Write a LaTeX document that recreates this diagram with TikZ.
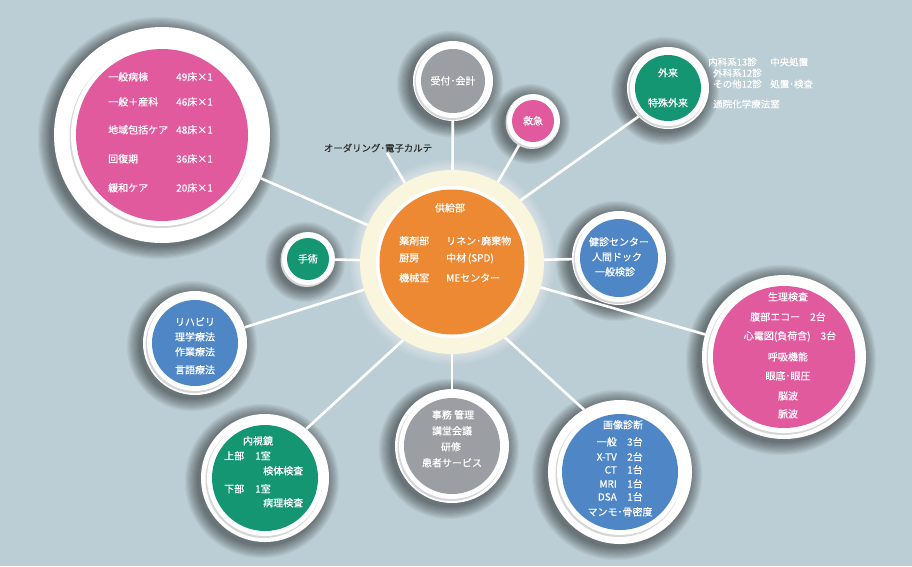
\documentclass[tikz,border=0pt]{standalone}
\usepackage{fontspec}
\setmainfont{Noto Sans CJK JP}[FakeBold=0.35]
\usetikzlibrary{calc}
\definecolor{bgc}{RGB}{188,206,213}
\definecolor{pinkc}{RGB}{225,90,157}
\definecolor{greenc}{RGB}{20,150,115}
\definecolor{bluec}{RGB}{79,134,198}
\definecolor{grayc}{RGB}{155,158,162}
\definecolor{orangec}{RGB}{238,137,51}
\definecolor{creamc}{RGB}{250,246,222}
\definecolor{darktext}{RGB}{45,45,45}
\pgfdeclarelayer{halo}
\pgfdeclarelayer{lines}
\pgfsetlayers{halo,lines,main}
\tikzset{
  outerdisc/.style={circle, fill=white, inner sep=0pt, outer sep=0pt},
  conn/.style={draw=white, line width=2.6pt},
  txt/.style={text=white, font=\fontsize{10}{12}\selectfont, inner sep=0pt, text height=8.2pt, text depth=1pt},
  smalltxt/.style={txt, font=\fontsize{9.5}{11}\selectfont},
}
\newcommand\bub[6]{%
  \begin{pgfonlayer}{halo}
    \foreach \k in {1,...,12}{\fill[black,opacity=0.045] (#2-3,#3+3) circle ({(#5+\k*1.1)*1pt});}
  \end{pgfonlayer}
  \node[outerdisc, minimum size={2*#5*1pt}] (#1) at (#2,#3) {};
  \fill[black!16] (#2-1,#3+1.5) circle ({(#4+5.5)*1pt});
  \fill[white] (#2,#3) circle ({(#4+5)*1pt});
  \fill[#6] (#2,#3) circle ({#4*1pt});
}
\begin{document}
\begin{tikzpicture}[x=1pt,y=-1pt]
\useasboundingbox (0,0) rectangle (912,566);
\begin{pgfonlayer}{halo}
  \fill[bgc] (0,0) rectangle (912,566);
  \foreach \k in {1,...,8}{\fill[white,opacity=0.06] (452,262) circle ({(92+\k*1.3)*1pt});}
\end{pgfonlayer}
% hub
\node[circle, fill=creamc, inner sep=0pt, outer sep=0pt, minimum size=184pt] (hub) at (452,262) {};
\fill[white] (452,262) circle (76pt);
\fill[orangec] (452,262) circle (72.5pt);
% satellites
\bub{p1}{162}{135}{86}{108}{pinkc}
\bub{uke}{453}{81}{32}{40}{grayc}
\bub{kyu}{533}{121}{21}{27}{pinkc}
\bub{gai}{668}{88}{33}{41}{greenc}
\bub{ken}{619}{258}{39}{47}{bluec}
\bub{rp}{784}{357}{71}{82}{pinkc}
\bub{gz}{620}{472}{58}{72}{bluec}
\bub{bgr}{452}{446}{48}{57}{grayc}
\bub{nai}{265}{478}{53}{64}{greenc}
\bub{rh}{195}{343}{43}{52}{bluec}
\bub{shu}{308}{259}{21}{27}{greenc}
% label
\node[txt, text=darktext, font=\fontsize{9.4}{11}\selectfont] (order) at (378,148) {オーダリング･電子カルテ};
% connectors
\begin{pgfonlayer}{lines}
  \draw[conn] (p1) -- (hub);
  \draw[conn] (uke) -- (hub);
  \draw[conn] (kyu) -- (hub);
  \draw[conn] (hub.42) -- (gai.224);
  \draw[conn] (ken) -- (hub);
  \draw[conn] (rp) -- (hub);
  \draw[conn] (hub.-55) -- (gz.120);
  \draw[conn] (bgr) -- (hub);
  \draw[conn] (hub.238) -- (nai.50);
  \draw[conn] (rh) -- (hub);
  \draw[conn] (shu) -- (hub);
  \draw[conn] ([xshift=9pt]order.south) -- (hub);
\end{pgfonlayer}
% hub text
\node[txt] (h0) at (450,208) {供給部};
\node[txt, anchor=west] (h1) at (399,241) {薬剤部};
\node[txt, anchor=west] (h2) at (446,241) {リネン･廃棄物};
\node[txt, anchor=west] (h3) at (399,258) {厨房};
\node[txt, anchor=west] (h4) at (446,258) {中材\,(SPD)};
\node[txt, anchor=west] (h5) at (399,278) {機械室};
\node[txt, anchor=west] (h6) at (446,278) {MEセンター};
% p1 text
\node[txt, anchor=west] (pa1) at (108,77) {一般病棟};
\node[txt, anchor=west] (pa2) at (176,77) {49床×1};
\node[txt, anchor=west] (pb1) at (108,102) {一般＋産科};
\node[txt, anchor=west] (pb2) at (176,102) {46床×1};
\node[txt, anchor=west] (pc1) at (108,130) {地域包括ケア};
\node[txt, anchor=west] (pc2) at (176,130) {48床×1};
\node[txt, anchor=west] (pd1) at (108,159) {回復期};
\node[txt, anchor=west] (pd2) at (176,159) {36床×1};
\node[txt, anchor=west] (pe1) at (108,188) {緩和ケア};
\node[txt, anchor=west] (pe2) at (176,188) {20床×1};
% small ones
\node[txt] (uket) at (453,81) {受付･会計};
\node[txt] (kyut) at (533,121) {救急};
\node[txt] (shut) at (308,259) {手術};
\node[txt] (gai1) at (668,73) {外来};
\node[txt] (gai2) at (668,103) {特殊外来};
\node[smalltxt, anchor=west] (gr1) at (708,62) {内科系13診};
\node[smalltxt, anchor=west] (gr2) at (770,62) {中央処置};
\node[smalltxt, anchor=west] (gr3) at (713,73) {外科系12診};
\node[smalltxt, anchor=west] (gr4) at (713,84) {その他12診};
\node[smalltxt, anchor=west] (gr5) at (770,84) {処置･検査};
\node[smalltxt, anchor=west] (gr6) at (713,104) {通院化学療法室};
% kenshin
\node[txt] (ke1) at (619,242) {健診センター};
\node[txt] (ke2) at (617,257) {人間ドック};
\node[txt] (ke3) at (615,272) {一般検診};
% right pink
\node[txt] (rp1) at (788,297) {生理検査};
\node[txt] (rp2) at (788,317) {腹部エコー　2台};
\node[txt] (rp3) at (790,336) {心電図(負荷含)　3台};
\node[txt] (rp4) at (788,357) {呼吸機能};
\node[txt] (rp5) at (788,376) {眼底･眼圧};
\node[txt] (rp6) at (788,396) {脳波};
\node[txt] (rp7) at (788,414) {脈波};
% rehab
\node[txt] (rh1) at (195,322) {リハビリ};
\node[txt] (rh2) at (195,337) {理学療法};
\node[txt] (rh3) at (195,352) {作業療法};
\node[txt] (rh4) at (195,370) {言語療法};
% naishikyo
\node[txt] (na0) at (258,441) {内視鏡};
\node[txt, anchor=west] (na1) at (224,456) {上部};
\node[txt, anchor=west] (na2) at (255,456) {1室};
\node[txt, anchor=west] (na3) at (263,471) {検体検査};
\node[txt, anchor=west] (na4) at (224,489) {下部};
\node[txt, anchor=west] (na5) at (255,489) {1室};
\node[txt, anchor=west] (na6) at (263,503) {病理検査};
% bottom gray
\node[txt] (bg1) at (453,415) {事務 管理};
\node[txt] (bg2) at (452,431) {講堂会議};
\node[txt] (bg3) at (451,447) {研修};
\node[txt] (bg4) at (452,463) {患者サービス};
% gazo
\node[txt] (gz0) at (623,425) {画像診断};
\node[txt, anchor=east] (gl1) at (617,442) {一般};
\node[txt, anchor=west] (gn1) at (627,442) {3台};
\node[txt, anchor=east] (gl2) at (617,457) {X-TV};
\node[txt, anchor=west] (gn2) at (627,457) {2台};
\node[txt, anchor=east] (gl3) at (617,470) {CT};
\node[txt, anchor=west] (gn3) at (627,470) {1台};
\node[txt, anchor=east] (gl4) at (617,484) {MRI};
\node[txt, anchor=west] (gn4) at (627,484) {1台};
\node[txt, anchor=east] (gl5) at (617,497) {DSA};
\node[txt, anchor=west] (gn5) at (627,497) {1台};
\node[txt] (gz6) at (620,512) {マンモ･骨密度};
\end{tikzpicture}
\end{document}
